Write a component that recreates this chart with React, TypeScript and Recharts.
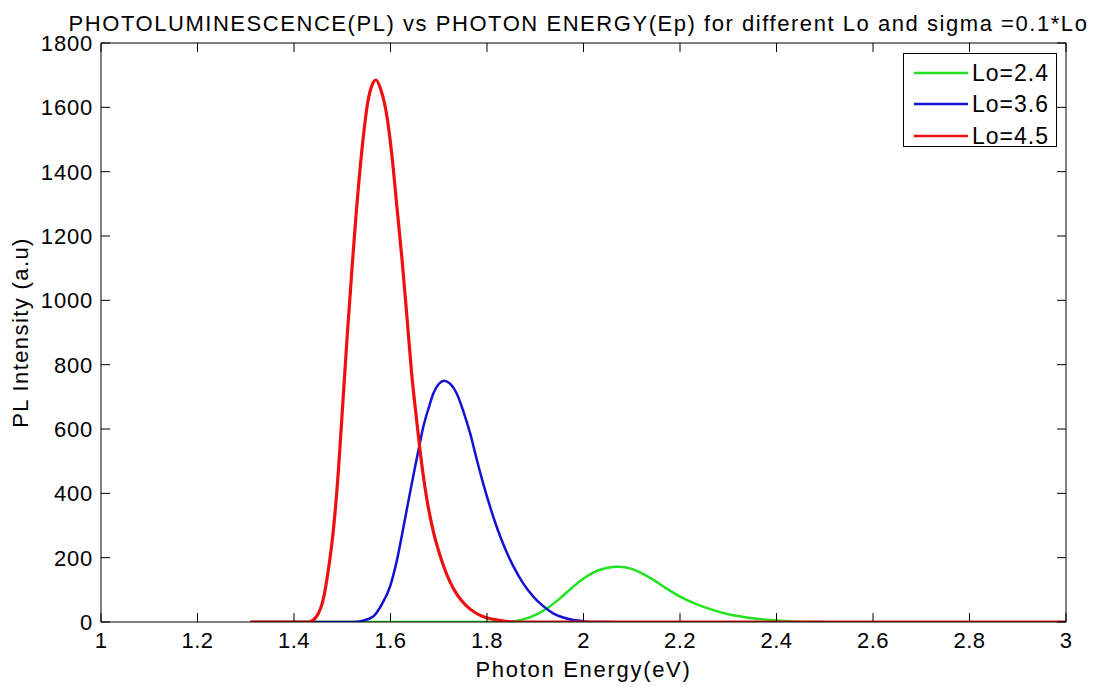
import React from 'react';
import { LineChart, Line, XAxis, YAxis, Legend, Label } from 'recharts';

const lo24Energy = [1.31, 1.84, 1.86, 1.89, 1.924, 1.95, 1.975, 2.0, 2.025, 2.048, 2.072, 2.1, 2.12, 2.145, 2.17, 2.2, 2.235, 2.269, 2.3, 2.338, 2.387, 2.43, 2.47, 2.5];
const lo24Intensity = [0, 0, 3, 15, 42, 72, 105, 135, 157, 168, 172, 165, 152, 131, 106, 79, 55, 37, 24, 14, 6, 2, 0, 0];

const lo36Energy = [1.31, 1.52, 1.545, 1.564, 1.582, 1.599, 1.613, 1.627, 1.637, 1.647, 1.658, 1.668, 1.679, 1.689, 1.7, 1.711, 1.724, 1.737, 1.751, 1.765, 1.778, 1.792, 1.806, 1.82, 1.837, 1.855, 1.875, 1.896, 1.916, 1.937, 1.958, 1.979, 2.0, 2.02, 2.055];
const lo36Intensity = [0, 0, 5, 17, 55, 110, 190, 296, 375, 452, 535, 607, 665, 711, 740, 750, 740, 711, 655, 587, 510, 431, 360, 296, 230, 172, 120, 79, 50, 27, 14, 6, 2, 0, 0];

const lo45Energy = [1.31, 1.43, 1.447, 1.461, 1.471, 1.481, 1.492, 1.502, 1.511, 1.52, 1.537, 1.554, 1.562, 1.57, 1.58, 1.592, 1.603, 1.613, 1.624, 1.634, 1.644, 1.654, 1.664, 1.675, 1.689, 1.703, 1.716, 1.73, 1.748, 1.765, 1.79, 1.813, 1.84, 1.87, 2.0, 3.0];
const lo45Intensity = [0, 0, 18, 73, 160, 277, 470, 700, 905, 1095, 1410, 1625, 1670, 1685, 1655, 1578, 1450, 1295, 1125, 950, 770, 630, 500, 385, 280, 205, 150, 105, 65, 40, 18, 8, 2, 0, 0, 0];

const seriesNames = ['Lo=2.4', 'Lo=3.6', 'Lo=4.5'];
const xTicks = [1, 1.2, 1.4, 1.6, 1.8, 2, 2.2, 2.4, 2.6, 2.8, 3];
const yTicks = [0, 200, 400, 600, 800, 1000, 1200, 1400, 1600, 1800];
const titleText = 'PHOTOLUMINESCENCE(PL) vs PHOTON ENERGY(Ep) for different Lo and sigma =0.1*Lo';
const xLabel = 'Photon Energy(eV)';
const yLabel = 'PL Intensity (a.u)';

const zip = (xs: number[], ys: number[]) => xs.map((x, i) => ({ x, y: ys[i] }));
const seriesData = [zip(lo24Energy, lo24Intensity), zip(lo36Energy, lo36Intensity), zip(lo45Energy, lo45Intensity)];
const colors = ['#22e222', '#1212d2', '#ee1010'];
const widths = [2.5, 2.5, 3.2];
// the last series is bound to the top/right frame axes so those axes get drawn
const xIds = ['bottom', 'bottom', 'top'];
const yIds = ['left', 'left', 'right'];

const FONT = '"Liberation Sans", Arial, Helvetica, sans-serif';
const TICK_LEN = 9;

const fmt = (v: number) => String(Number(v.toFixed(1)));

const BottomTick = (props: any) => {
  const { x, y, payload } = props;
  const axisY = y - 10;
  return (
    <g>
      <line x1={x} y1={axisY} x2={x} y2={axisY - TICK_LEN} stroke="#000" strokeWidth={1} />
      <text x={x} y={y + 16} textAnchor="middle" fontSize={22} fontFamily={FONT} fill="#000" letterSpacing={0.5}>{fmt(payload.value)}</text>
    </g>
  );
};

const TopTick = (props: any) => {
  const { x, y } = props;
  return <line x1={x} y1={y} x2={x} y2={y + TICK_LEN} stroke="#000" strokeWidth={1} />;
};

const LeftTick = (props: any) => {
  const { x, y, payload } = props;
  const axisX = x + 8;
  return (
    <g>
      <line x1={axisX} y1={y} x2={axisX + TICK_LEN} y2={y} stroke="#000" strokeWidth={1} />
      <text x={x} y={y + 8} textAnchor="end" fontSize={22} fontFamily={FONT} fill="#000" letterSpacing={0.8}>{payload.value}</text>
    </g>
  );
};

const RightTick = (props: any) => {
  const { x, y } = props;
  return <line x1={x} y1={y} x2={x - TICK_LEN} y2={y} stroke="#000" strokeWidth={1} />;
};

const renderLegend = (props: any) => {
  const { payload } = props;
  return (
    <div style={{ width: 154, height: 94, border: '1px solid #000', background: '#fff', boxSizing: 'border-box', paddingTop: 3 }}>
      {(payload || []).map((entry: any, i: number) => (
        <div key={i} style={{ display: 'flex', alignItems: 'center', height: 31.5 }}>
          <svg width={68} height={10} style={{ display: 'block' }}>
            <line x1={10} y1={5} x2={64} y2={5} stroke={entry.color} strokeWidth={2.5} />
          </svg>
          <span style={{ fontFamily: FONT, fontSize: 23, color: '#000', lineHeight: '24px', letterSpacing: 1 }}>{entry.value}</span>
        </div>
      ))}
    </div>
  );
};

export default function App() {
  return (
    <div style={{ width: 1091, height: 679, background: '#fff' }}>
      <LineChart width={1091} height={679} margin={{ top: 34, right: 32, bottom: 0, left: 0 }}>
        <XAxis
          xAxisId="bottom"
          type="number"
          dataKey="x"
          domain={[1, 3]}
          ticks={xTicks}
          allowDataOverflow
          height={65}
          tickLine={false}
          tickSize={0}
          tickMargin={10}
          tick={<BottomTick />}
          axisLine={{ stroke: '#000', strokeWidth: 1 }}
          interval={0}
        >
          <Label value={xLabel} position="insideBottom" offset={10} style={{ fontFamily: FONT, fontSize: 22, fill: '#000', letterSpacing: 1.7 }} />
        </XAxis>
        <XAxis
          xAxisId="top"
          orientation="top"
          type="number"
          dataKey="x"
          domain={[1, 3]}
          ticks={xTicks}
          allowDataOverflow
          height={1}
          tickLine={false}
          tickSize={0}
          tickMargin={0}
          tick={<TopTick />}
          axisLine={{ stroke: '#000', strokeWidth: 1 }}
          interval={0}
        >
          <Label value={titleText} position="top" offset={11} dx={-5} style={{ fontFamily: FONT, fontSize: 22, fill: '#000', letterSpacing: 1.55 }} />
        </XAxis>
        <YAxis
          yAxisId="left"
          type="number"
          domain={[0, 1800]}
          ticks={yTicks}
          allowDataOverflow
          width={93}
          tickLine={false}
          tickSize={0}
          tickMargin={8}
          tick={<LeftTick />}
          axisLine={{ stroke: '#000', strokeWidth: 1 }}
          interval={0}
        >
          <Label value={yLabel} angle={-90} position="insideLeft" offset={12} style={{ fontFamily: FONT, fontSize: 22, fill: '#000', textAnchor: 'middle', letterSpacing: 1.4 }} />
        </YAxis>
        <YAxis
          yAxisId="right"
          orientation="right"
          type="number"
          domain={[0, 1800]}
          ticks={yTicks}
          allowDataOverflow
          width={1}
          tickLine={false}
          tickSize={0}
          tickMargin={0}
          tick={<RightTick />}
          axisLine={{ stroke: '#000', strokeWidth: 1 }}
          interval={0}
        />
        <Legend
          content={renderLegend}
          layout="vertical"
          verticalAlign="middle"
          align="center"
          wrapperStyle={{ position: 'absolute', left: 895, top: 45, width: 154, height: 94 }}
        />
        {seriesData.map((d, i) => (
          <Line
            key={seriesNames[i]}
            xAxisId={xIds[i]}
            yAxisId={yIds[i]}
            data={d}
            dataKey="y"
            name={seriesNames[i]}
            type="monotone"
            stroke={colors[i]}
            strokeWidth={widths[i]}
            dot={false}
            activeDot={false}
            isAnimationActive={false}
          />
        ))}
      </LineChart>
    </div>
  );
}
